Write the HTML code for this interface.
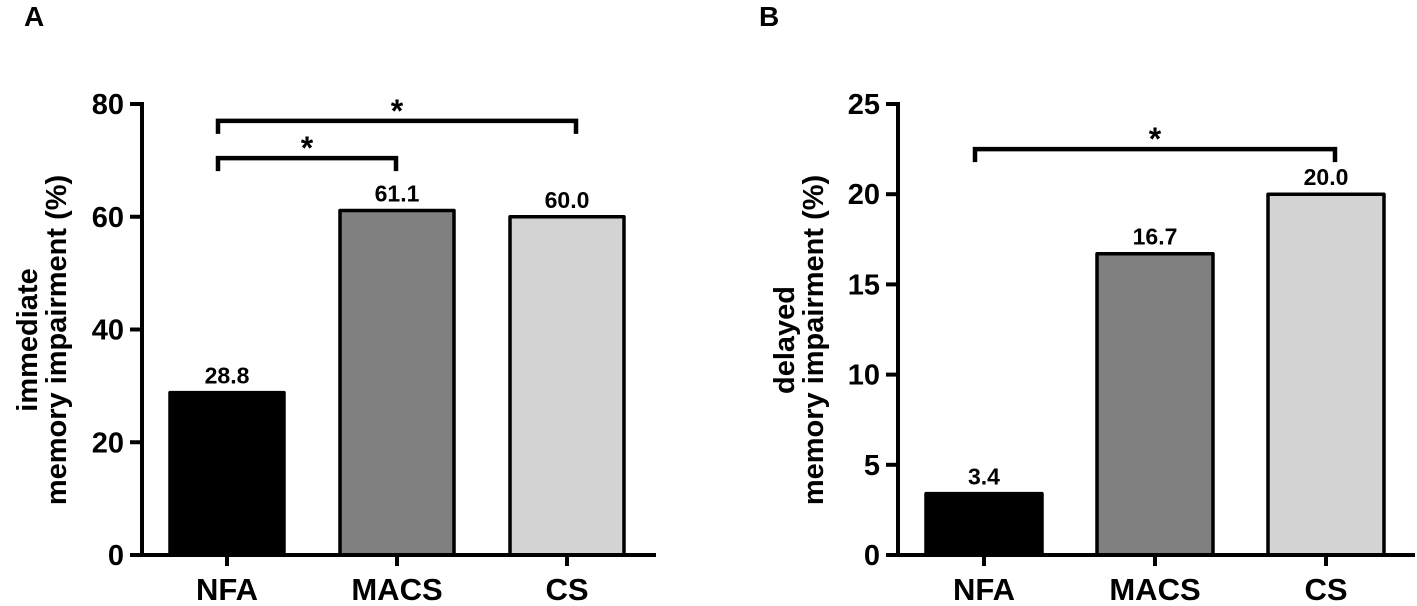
<!DOCTYPE html>
<html><head><meta charset="utf-8"><style>
html,body{margin:0;padding:0;background:#fff;}
svg{display:block;font-family:"Liberation Sans",Arial,sans-serif;font-weight:bold;}
</style></head><body>
<svg id="chart" width="1417" height="606" viewBox="0 0 1417 606"></svg>
<script>
const categories = ["NFA","MACS","CS"];
const valuesA = [28.8, 61.1, 60.0];
const valuesB = [3.4, 16.7, 20.0];
const labelsA = ["28.8","61.1","60.0"];
const labelsB = ["3.4","16.7","20.0"];
const ticksA = [0,20,40,60,80];
const ticksB = [0,5,10,15,20,25];
const sigA = [[0,2,77],[0,1,70.4]];
const sigB = [[0,2,22.5]];
const fills = ["#000000","#808080","#d3d3d3"];

const NS="http://www.w3.org/2000/svg";
const svg=document.getElementById('chart');
function mk(tag,attrs,parent){const e=document.createElementNS(NS,tag);for(const k in attrs)e.setAttribute(k,attrs[k]);(parent||svg).appendChild(e);return e;}

function panel(cfg){
  const g=mk('g',{});
  
  
  const y=v=>cfg.y0-(v/cfg.max)*(cfg.y0-cfg.yTop);
  const x=i=>cfg.x0+i*cfg.step;
  cfg.vals.forEach((v,i)=>{
    const r=mk('rect',{x:x(i)-cfg.bw/2,y:y(v),width:cfg.bw,height:cfg.y0-y(v),fill:fills[i],stroke:'#000','stroke-width':3.5,'stroke-linejoin':'round'},g);
    
    
    const t=mk('text',{x:x(i),y:y(v)-9,'text-anchor':'middle','font-size':23},g);
    t.textContent=cfg.labels[i];
    
    
    const tk=mk('line',{x1:x(i),x2:x(i),y1:cfg.y0,y2:cfg.y0+11,stroke:'#000','stroke-width':4},g);
    
    
    const c=mk('text',{x:x(i),y:600,'text-anchor':'middle','font-size':31},g);
    c.textContent=categories[i];
    
    
  });
  const ya=mk('line',{x1:cfg.ax,x2:cfg.ax,y1:cfg.yTop-2,y2:cfg.y0+2,stroke:'#000','stroke-width':4},g);
  
  
  const xa=mk('line',{x1:cfg.ax-12,x2:cfg.xEnd,y1:cfg.y0,y2:cfg.y0,stroke:'#000','stroke-width':4},g);
  
  
  cfg.ticks.forEach(v=>{
    const l=mk('line',{x1:cfg.ax-12,x2:cfg.ax,y1:y(v),y2:y(v),stroke:'#000','stroke-width':4},g);
    
    
    const t=mk('text',{x:cfg.ax-18,y:y(v)+10,'text-anchor':'end','font-size':29},g);
    t.textContent=String(v);
    
    
  });
  cfg.sig.forEach(s=>{
    const x1=x(s[0])-9,x2=x(s[1])+(s[1]-s[0]===1?-1:9),yy=y(s[2]);
    const p=mk('path',{d:`M${x1},${yy+13} V${yy} H${x2} V${yy+13}`,fill:'none',stroke:'#000','stroke-width':4.5},g);
    
    
    const a=mk('text',{x:(x1+x2)/2,y:yy+1,'text-anchor':'middle','font-size':32},g);
    a.textContent='*';
    
    
  });
  const tt=mk('text',{transform:`translate(${cfg.tx},340) rotate(-90)`,'text-anchor':'middle','font-size':29},g);
  
  
  const s1=mk('tspan',{x:0,y:0},tt); s1.textContent=cfg.title1;
  const s2=mk('tspan',{x:0,y:29},tt); s2.textContent='memory impairment (%)';
  const pl=mk('text',{x:cfg.px,y:26,'font-size':28},g);
  pl.textContent=cfg.letter;
  
  
}

panel({name:'panel-a',vals:valuesA,labels:labelsA,ticks:ticksA,sig:sigA,max:80,y0:555,yTop:104,x0:227,step:170,bw:114,ax:142,xEnd:656,tx:37,title1:'immediate',letter:'A',px:24});
panel({name:'panel-b',vals:valuesB,labels:labelsB,ticks:ticksB,sig:sigB,max:25,y0:555,yTop:104,x0:984,step:171,bw:116,ax:898,xEnd:1415,tx:794,title1:'delayed',letter:'B',px:759});
</script>
</body></html>
